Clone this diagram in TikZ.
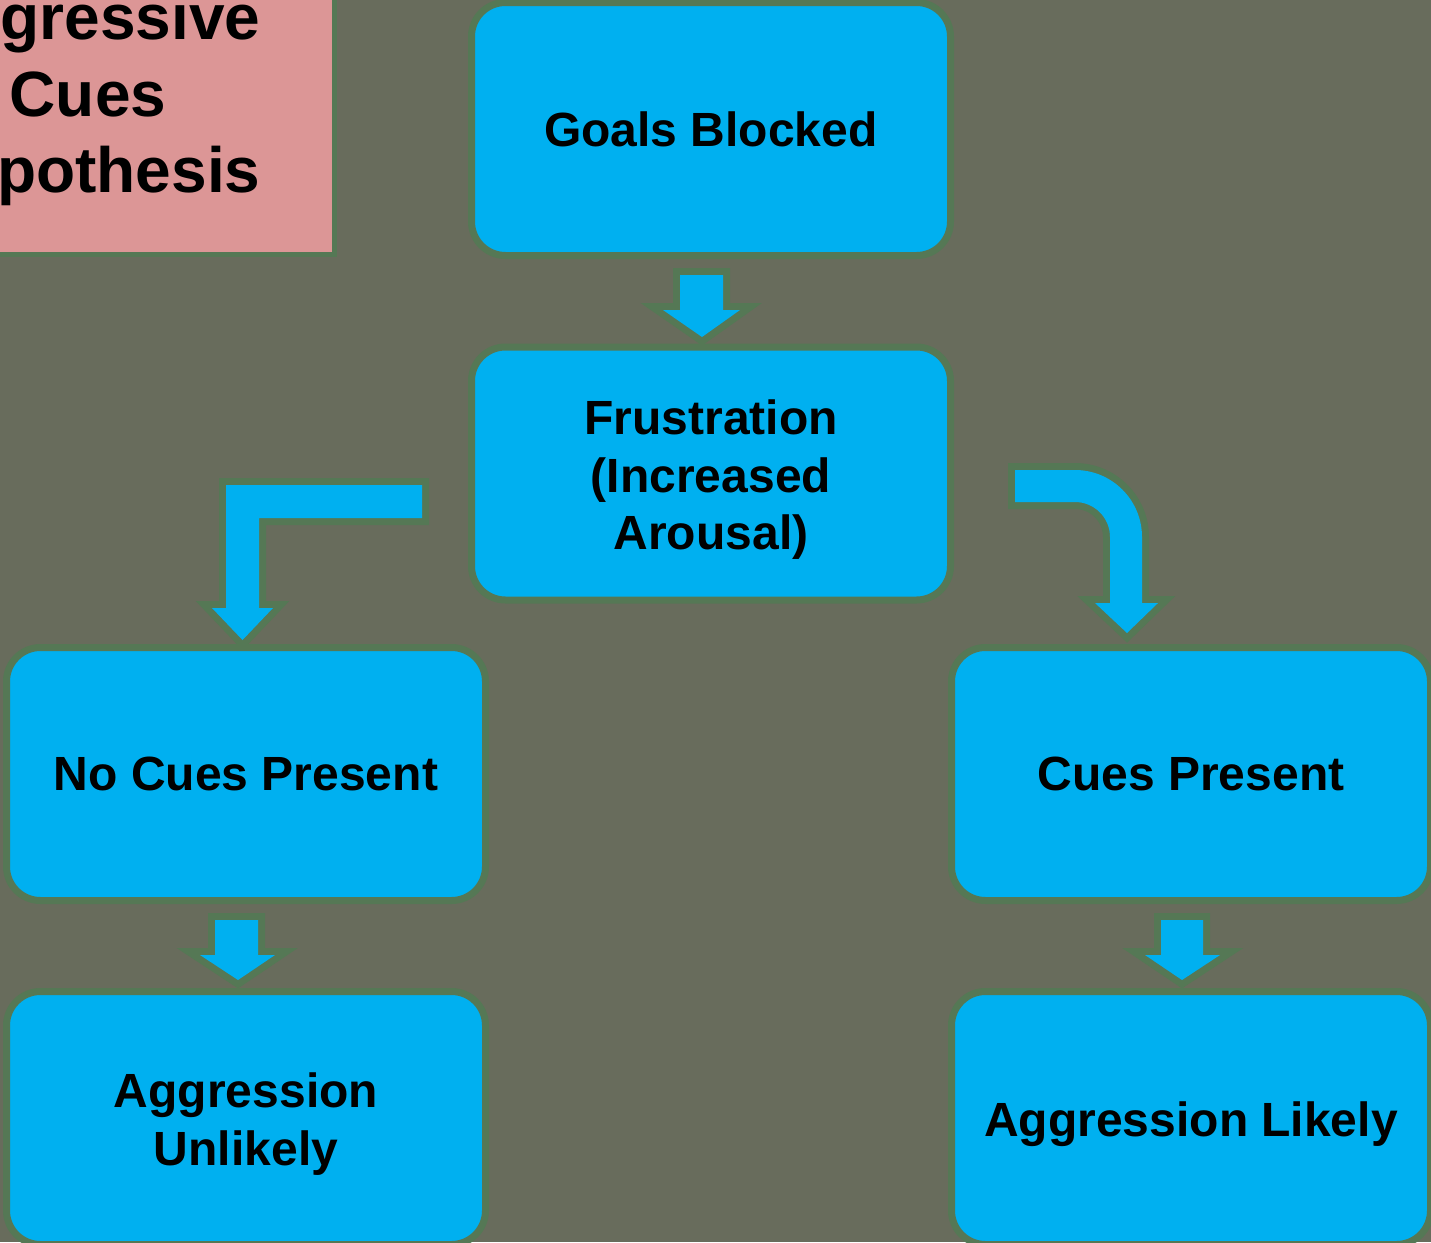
\documentclass[tikz,border=0pt]{standalone}
\usepackage{fontspec}
\setmainfont{Liberation Sans}
\definecolor{bg}{HTML}{686C5C}
\definecolor{cgreen}{HTML}{557855}
\definecolor{cblue}{HTML}{00B0F0}
\definecolor{cpink}{HTML}{DC9696}
\newcommand{\tallstrut}{\rule{0pt}{47pt}}
\tikzset{
  box/.style={draw=cgreen, line width=7pt, fill=cblue, rounded corners=34pt,
    minimum width=479pt, minimum height=253pt, inner sep=0pt, align=center,
    font=\bfseries\fontsize{48}{57.6}\selectfont, text=black},
  blockarrow/.style={fill=cblue, preaction={draw=cgreen, line width=14pt, line join=miter}},
}
\begin{document}
\begin{tikzpicture}[x=1pt,y=-1pt]
\useasboundingbox (0,0) rectangle (1431,1242);
\clip (0,0) rectangle (1431,1242);
\fill[bg] (0,0) rectangle (1431,1242);
% title box (cropped)
\draw[fill=cpink, draw=cgreen, line width=5pt] (-10,-10) rectangle (334.5,254.5);
\node[inner sep=0pt, align=center, font=\bfseries\fontsize{64}{76.8}\selectfont] (title) at (88,99.5) {Aggressive\\Cues\\Hypothesis};
% boxes
\node[box] (goals) at (711,129) {Goals Blocked};
\node[box] (frust) at (711,473.5) {\tallstrut Frustration\\(Increased\\Arousal)};
\node[box] (nocues) at (246,774) {No Cues Present};
\node[box] (cues) at (1191,774) {Cues Present};
\node[box] (unlikely) at (246,1118) {\tallstrut Aggression\\Unlikely};
\node[box] (likely) at (1191,1118) {\tallstrut Aggression Likely};
% block arrows
\path[blockarrow] (680,275) -- (723,275) -- (723,310) -- (740,310) -- (702,337) -- (663,310) -- (680,310) -- cycle;
\path[blockarrow] (422,485) -- (226,485) -- (226,608) -- (212,608) -- (242.5,640) -- (273,608) -- (259,608) -- (259,518) -- (422,518) -- cycle;
\path[blockarrow] (1015,470) -- (1075,470) .. controls (1112,470) and (1142,500) .. (1142,537) -- (1142,603) -- (1158,603) -- (1127,633) -- (1095,603) -- (1110,603) -- (1110,537) .. controls (1110,517.7) and (1094.3,502) .. (1075,502) -- (1015,502) -- cycle;
\path[blockarrow] (215,920) -- (258,920) -- (258,955) -- (275,955) -- (238,980) -- (200,955) -- (215,955) -- cycle;
\path[blockarrow] (1161,920) -- (1203,920) -- (1203,955) -- (1220,955) -- (1182,980) -- (1145,955) -- (1161,955) -- cycle;
\end{tikzpicture}
\end{document}
